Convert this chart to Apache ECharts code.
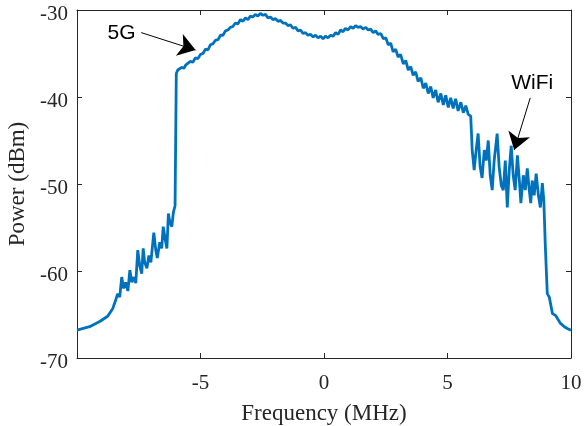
<!DOCTYPE html>
<html>
<head>
<meta charset="utf-8">
<script src="https://cdn.jsdelivr.net/npm/echarts@6/dist/echarts.min.js"></script>
<style>
  html, body { margin: 0; padding: 0; background: #fff; }
</style>
</head>
<body>
<div id="container" style="width:584px;height:426px"></div>
<script>
  // frequency (MHz) and power (dBm)
  let freq = [
    -10.00, -9.49, -9.08, -8.76, -8.55, -8.43, -8.35, -8.27, -8.19, -8.11,
    -8.03, -7.94, -7.86, -7.78, -7.70, -7.62, -7.54, -7.46, -7.38, -7.32,
    -7.26, -7.17, -7.09, -7.01, -6.89, -6.81, -6.75, -6.65, -6.57, -6.51,
    -6.42, -6.36, -6.30, -6.24, -6.16, -6.10, -6.03,
    -5.98, -5.92, -5.84, -5.76, -5.67, -5.59, -5.51, -5.41, -5.31, -5.21,
    -5.11, -5.00, -4.90, -4.80, -4.70, -4.60, -4.50, -4.40, -4.29, -4.19,
    -4.09, -3.99, -3.89, -3.79, -3.69, -3.59, -3.49, -3.38, -3.28, -3.18,
    -3.08, -2.98, -2.88, -2.78, -2.68, -2.58, -2.47, -2.37, -2.27, -2.17,
    -2.07, -1.96, -1.86, -1.76, -1.66, -1.56, -1.46, -1.36, -1.26, -1.15,
    -1.05, -0.95, -0.85, -0.75, -0.65, -0.55, -0.44, -0.34, -0.24, -0.14,
    -0.04, 0.06, 0.16, 0.27, 0.37, 0.47, 0.57, 0.67, 0.77, 0.87,
    0.97, 1.08, 1.18, 1.28, 1.38, 1.48, 1.58, 1.69, 1.79, 1.89,
    1.99, 2.09, 2.19, 2.30, 2.40, 2.50, 2.60, 2.70, 2.80, 2.90,
    3.00, 3.10, 3.21, 3.31, 3.41, 3.51, 3.61, 3.71, 3.81, 3.92,
    4.02, 4.12, 4.22, 4.32, 4.42, 4.52, 4.62, 4.73, 4.83, 4.93,
    5.03, 5.13, 5.23, 5.33, 5.43, 5.54, 5.64, 5.74, 5.84, 5.94,
    6.00, 6.08, 6.16, 6.24, 6.32, 6.40, 6.49, 6.57, 6.65, 6.73,
    6.81, 6.89, 7.01, 7.09, 7.18, 7.26, 7.34, 7.42, 7.50, 7.58,
    7.66, 7.74, 7.83, 7.91, 7.97, 8.07, 8.15, 8.23, 8.31, 8.37,
    8.43, 8.51, 8.59, 8.68, 8.76, 8.84, 8.90, 8.96, 9.04, 9.12,
    9.17, 9.25, 9.37, 9.45, 9.57, 9.73, 9.85, 10.00
  ];
  let power = [
    -66.8, -66.4, -65.8, -65.2, -64.3, -63.3, -62.6, -63.0, -60.7, -62.0,
    -61.3, -62.3, -59.9, -61.3, -60.7, -61.4, -57.6, -59.4, -60.3, -57.4,
    -59.0, -59.7, -58.2, -59.0, -55.6, -57.6, -58.5, -56.7, -57.4, -54.9,
    -56.5, -57.4, -53.4, -54.4, -54.9, -53.3, -52.5,
    -37.3, -36.9, -37.0, -36.6, -36.7, -36.3, -36.4, -35.9, -36.0, -35.5,
    -35.6, -35.1, -35.0, -34.5, -34.6, -34.0, -33.9, -33.5, -33.4, -32.9,
    -32.9, -32.4, -32.3, -32.0, -31.9, -31.5, -31.6, -31.1, -31.3, -30.9,
    -31.1, -30.7, -30.8, -30.5, -30.7, -30.4, -30.6, -30.5, -30.9, -30.8,
    -31.1, -31.0, -31.3, -31.2, -31.5, -31.5, -31.8, -31.7, -32.1, -32.0,
    -32.4, -32.3, -32.7, -32.6, -32.9, -32.8, -33.1, -32.9, -33.2, -33.0,
    -33.3, -33.0, -33.2, -32.9, -33.0, -32.6, -32.8, -32.3, -32.5, -32.1,
    -32.3, -31.9, -32.1, -31.8, -32.0, -31.9, -32.2, -32.0, -32.3, -32.2,
    -32.6, -32.4, -32.8, -32.7, -33.3, -33.2, -34.0, -33.8, -34.8, -34.5,
    -35.4, -35.1, -36.2, -35.8, -36.9, -36.5, -37.5, -37.1, -38.2, -37.8,
    -39.0, -38.4, -39.6, -38.8, -40.1, -39.2, -40.6, -39.6, -40.9, -39.8,
    -41.2, -40.1, -41.3, -40.2, -41.6, -40.6, -41.8, -41.0, -42.0, -42.2,
    -46.1, -48.4, -46.1, -44.2, -48.0, -49.3, -46.1, -47.3, -45.0, -49.0,
    -50.7, -47.3, -44.2, -48.0, -50.2, -50.7, -47.3, -52.7, -48.4, -45.6,
    -49.0, -50.7, -46.7, -49.6, -52.2, -49.0, -50.7, -48.2, -50.7, -52.2,
    -49.6, -51.3, -48.8, -51.3, -52.7, -49.9, -51.9, -57.1, -62.6, -63.0,
    -62.8, -64.9, -65.1, -65.3, -66.0, -66.4, -66.6, -66.8
  ];

  // annotations: text position and arrow start/end in data units
  let notes = [
    {text: '5G', at: [-8.2, -32.7], from: [-7.4, -32.6], to: [-5.2, -34.6]},
    {text: 'WiFi', at: [8.43, -38.4], from: [8.35, -40.1], to: [7.7, -46.1]}
  ];

  let xTicks = [-10, -5, 0, 5, 10];
  let yTicks = [-70, -60, -50, -40, -30];

  let axisColor = '#262626';
  let serif = 'Liberation Serif';
  let sans = 'Liberation Sans';

  let dom = echarts.init(document.getElementById('container'));

  let line = freq.map(function (f, i) { return [f, power[i]]; });

  let boxAxis = {
    axisLine: {show: true, onZero: false, lineStyle: {color: axisColor, width: 1}},
    axisTick: {show: true, inside: true, length: 5, lineStyle: {color: axisColor}},
    splitLine: {show: false}
  };

  dom.setOption({
    animation: false,
    grid: {left: 77, right: 13, top: 10, bottom: 68, outerBoundsMode: 'none'},
    xAxis: [
      Object.assign({
        type: 'value', min: xTicks[0], max: xTicks[xTicks.length - 1], interval: 5,
        name: 'Frequency (MHz)', nameLocation: 'middle', nameGap: 44,
        nameTextStyle: {fontFamily: serif, fontSize: 23, color: axisColor},
        axisLabel: {
          fontFamily: serif, fontSize: 21, color: axisColor, margin: 15,
          formatter: function (v) { return v === -10 ? '' : String(v); }
        }
      }, boxAxis),
      Object.assign({
        type: 'value', position: 'top', min: -10, max: 10, interval: 5,
        axisLabel: {show: false}
      }, boxAxis)
    ],
    yAxis: [
      Object.assign({
        type: 'value', min: yTicks[0], max: yTicks[yTicks.length - 1], interval: 10,
        name: 'Power (dBm)', nameLocation: 'middle', nameGap: 47,
        nameTextStyle: {fontFamily: serif, fontSize: 23, color: axisColor},
        axisLabel: {
          fontFamily: serif, fontSize: 21, color: axisColor, margin: 9,
          verticalAlign: 'top', lineHeight: 8
        }
      }, boxAxis),
      Object.assign({
        type: 'value', position: 'right', min: -70, max: -30, interval: 10,
        axisLabel: {show: false}
      }, boxAxis)
    ],
    series: [
      {
        type: 'line',
        data: line,
        showSymbol: false,
        lineStyle: {color: '#0072BD', width: 2.8},
        markLine: {
          silent: true,
          symbol: ['none', 'arrow'],
          symbolSize: 17,
          label: {show: false},
          lineStyle: {color: '#000', width: 1, type: 'solid'},
          data: notes.map(function (n) {
            return [{coord: n.from}, {coord: n.to}];
          })
        },
        markPoint: {
          silent: true,
          symbol: 'circle',
          symbolSize: 0,
          label: {
            show: true, position: 'inside',
            fontFamily: sans, fontSize: 21, color: '#000',
            formatter: function (p) { return p.name; }
          },
          data: notes.map(function (n) {
            return {name: n.text, coord: n.at};
          })
        }
      }
    ]
  });
</script>
</body>
</html>
